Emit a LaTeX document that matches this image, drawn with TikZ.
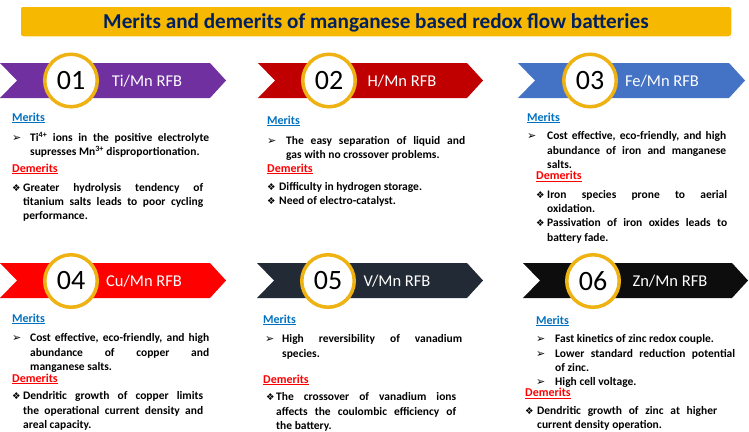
\documentclass[tikz,border=0pt]{standalone}
\usepackage{fontspec}
\setmainfont{Carlito}
\newfontfamily\symfont{DejaVu Sans}
\usetikzlibrary{shadows}

\definecolor{amber}{RGB}{246,184,0}
\definecolor{titlenavy}{HTML}{002060}
\definecolor{ringgold}{RGB}{238,178,18}
\definecolor{purp}{HTML}{7030A0}
\definecolor{darkred}{HTML}{C00000}
\definecolor{steel}{HTML}{4472C4}
\definecolor{brightred}{HTML}{FF0000}
\definecolor{slate}{HTML}{222A35}
\definecolor{nearblack}{HTML}{0D0D0D}
\definecolor{meritblue}{HTML}{0070C0}

% one bullet line, arrow or diamond, hanging indent #1
\newcommand{\arritem}[2]{\par\noindent\hangindent=#1\hangafter=1\makebox[#1][l]{\strut{\symfont\fontsize{11}{11}\selectfont ➢}}#2\par}
\newcommand{\diaitem}[2]{\par\noindent\hangindent=#1\hangafter=1\makebox[#1][l]{\strut{\symfont\fontsize{9.5}{9.5}\selectfont ❖}}#2\par}

\begin{document}
\begin{tikzpicture}[x=1pt, y=-1pt,
  titlebar/.style = {rounded corners=3pt, fill=amber, draw=white, line width=1.5pt,
    minimum width=712, minimum height=31, inner sep=0pt,
    drop shadow={opacity=0.35, shadow xshift=0.5pt, shadow yshift=-1pt}},
  titletext/.style = {anchor=base, inner sep=0pt, text=titlenavy, font=\bfseries\fontsize{21.2}{21.2}\selectfont},
  numring/.style = {circle, draw=ringgold, line width=3.5pt, fill=white, minimum size=52.5, inner sep=0pt,
    font=\fontsize{28}{28}\selectfont,
    drop shadow={opacity=0.3, shadow xshift=1pt, shadow yshift=-1.5pt}},
  rfb/.style = {anchor=base, inner sep=0pt, text=white, font=\fontsize{16.5}{16.5}\selectfont},
  merit/.style = {anchor=base west, inner sep=0pt, text=meritblue, font=\bfseries\fontsize{12}{12}\selectfont},
  demerit/.style = {anchor=base west, inner sep=0pt, text=brightred, font=\bfseries\fontsize{12}{12}\selectfont},
  itemlist/.style = {anchor=north west, inner sep=0pt, text width=#1, align=justify,
    font=\bfseries\fontsize{11.5}{14.2}\selectfont, execute at begin node={\sloppy}}]
\useasboundingbox (0,0) rectangle (749,431);

% title
\node[titlebar] (title) at (376,21.5) {};
\node[titletext] (titletxt) at (376,28) {Merits and demerits of manganese based redox flow batteries};

% banners
\fill[purp] (0,63) -- (210,63) -- (226,80.5) -- (210,98) -- (0,98) -- (17,80.5) -- cycle;
\fill[darkred] (258,63) -- (467,63) -- (483,80.5) -- (467,98) -- (258,98) -- (275,80.5) -- cycle;
\fill[steel] (518,63) -- (729,63) -- (745,80.5) -- (729,98) -- (518,98) -- (535,80.5) -- cycle;
\fill[brightred] (0,263) -- (210,263) -- (226,280.5) -- (210,298) -- (0,298) -- (17,280.5) -- cycle;
\fill[slate] (257,263) -- (467,263) -- (483,280.5) -- (467,298) -- (257,298) -- (274,280.5) -- cycle;
\fill[nearblack] (523,263) -- (732,263) -- (748,280.5) -- (732,298) -- (523,298) -- (540,280.5) -- cycle;

\node[numring] (n1) at (71,80.5) {01};
\node[numring] (n2) at (329,80.5) {02};
\node[numring] (n3) at (590,80.5) {03};
\node[numring] (n4) at (71,281) {04};
\node[numring] (n5) at (328,281) {05};
\node[numring] (n6) at (593,281) {06};

\node[rfb] (r1) at (147,86) {Ti/Mn RFB};
\node[rfb] (r2) at (402,86) {H/Mn RFB};
\node[rfb] (r3) at (662,86) {Fe/Mn RFB};
\node[rfb] (r4) at (144,286.5) {Cu/Mn RFB};
\node[rfb] (r5) at (397,286.5) {V/Mn RFB};
\node[rfb] (r6) at (670,286.5) {Zn/Mn RFB};

% Ti/Mn
\node[merit] (m1) at (12,121) {\underline{Merits}};
\node[itemlist=197pt] (mt1) at (12,127) {\arritem{18pt}{Ti\textsuperscript{4+} ions in the positive electrolyte \linebreak supresses Mn\textsuperscript{3+} disproportionation.}};
\node[demerit] (d1) at (12,172) {\underline{Demerits}};
\node[itemlist=191pt] (dt1) at (12,177) {\diaitem{11pt}{Greater hydrolysis tendency of \linebreak titanium salts leads to poor cycling \linebreak performance.}};

% H/Mn
\node[merit] (m2) at (267,124) {\underline{Merits}};
\node[itemlist=198pt] (mt2) at (267,130) {\arritem{19pt}{The easy separation of liquid and \linebreak gas with no crossover problems.}};
\node[demerit] (d2) at (267,172) {\underline{Demerits}};
\node[itemlist=200pt] (dt2) at (267,176) {\diaitem{12pt}{Difficulty in hydrogen storage.}\diaitem{12pt}{Need of electro-catalyst.}};

% Fe/Mn
\node[merit] (m3) at (527,121) {\underline{Merits}};
\node[itemlist=199pt] (mt3) at (527,125.5) {\arritem{20pt}{Cost effective, eco-friendly, and high \linebreak abundance of iron and manganese \linebreak salts.}};
\node[demerit] (d3) at (536,179.5) {\underline{Demerits}};
\node[itemlist=191pt] (dt3) at (536,184) {\diaitem{11pt}{Iron species prone to aerial \linebreak oxidation.}\diaitem{11pt}{Passivation of iron oxides leads to \linebreak battery fade.}};

% Cu/Mn
\node[merit] (m4) at (12,322) {\underline{Merits}};
\node[itemlist=197pt] (mt4) at (12,327.5) {\arritem{18pt}{Cost effective, eco-friendly, and high \linebreak abundance of copper and \linebreak manganese salts.}};
\node[demerit] (d4) at (12,382) {\underline{Demerits}};
\node[itemlist=191pt] (dt4) at (12,385.5) {\diaitem{11pt}{Dendritic growth of copper limits \linebreak the operational current density and \linebreak areal capacity.}};

% V/Mn
\node[merit] (m5) at (263,323) {\underline{Merits}};
\node[itemlist=197pt] (mt5) at (265,328.5) {\arritem{17pt}{High reversibility of vanadium \linebreak species.}};
\node[demerit] (d5) at (263,383) {\underline{Demerits}};
\node[itemlist=190pt] (dt5) at (266,386.5) {\diaitem{10pt}{The crossover of vanadium ions \linebreak affects the coulombic efficiency of \linebreak the battery.}};

% Zn/Mn
\node[merit] (m6) at (536,324) {\underline{Merits}};
\node[itemlist=199pt] (mt6) at (536,328.5) {\arritem{19pt}{Fast kinetics of zinc redox couple.}\arritem{19pt}{Lower standard reduction potential \linebreak of zinc.}\arritem{19pt}{High cell voltage.}};
\node[demerit] (d6) at (525,396.5) {\underline{Demerits}};
\node[itemlist=192pt] (dt6) at (525,400) {\diaitem{12pt}{Dendritic growth of zinc at higher \linebreak current density operation.}};
\end{tikzpicture}
\end{document}
